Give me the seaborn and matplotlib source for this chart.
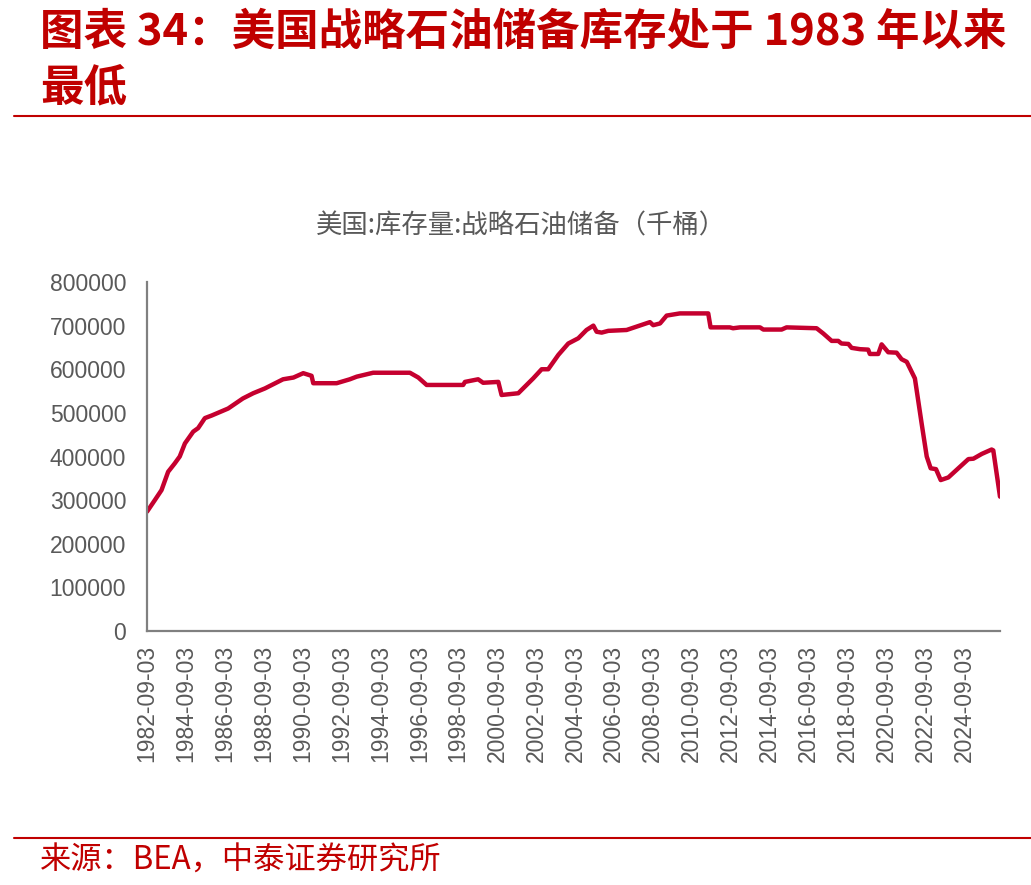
import pandas as pd
import numpy as np
import matplotlib
matplotlib.use('Agg')
import matplotlib.pyplot as plt
import matplotlib.dates as mdates
import seaborn as sns

# 美国战略石油储备（千桶），从图上读出的拐点
dates = ['1982-09-03', '1983-01-28', '1983-06-03', '1983-10-05', '1984-02-05',
         '1984-05-10', '1984-08-15', '1985-01-18', '1985-04-20', '1985-08-25',
         '1986-01-01', '1986-11-05', '1987-08-08', '1988-02-18', '1988-09-25',
         '1989-09-01', '1990-03-15', '1990-09-15', '1991-02-18', '1991-03-22',
         '1992-06-03', '1993-02-06', '1993-06-15', '1994-04-20', '1996-03-10',
         '1996-08-15', '1997-01-18', '1998-12-05', '1999-01-08', '1999-09-12',
         '1999-12-15', '2000-09-25', '2000-11-25', '2001-10-05', '2002-07-12',
         '2002-12-18', '2003-04-20', '2003-10-28', '2004-05-01', '2004-11-05',
         '2005-04-08', '2005-08-15', '2005-10-15', '2006-01-18', '2006-05-22',
         '2007-05-01', '2008-07-12', '2008-09-12', '2009-01-18', '2009-05-22',
         '2010-01-25', '2011-07-12', '2011-08-25', '2012-08-20', '2012-10-20',
         '2013-02-28', '2014-03-10', '2014-05-12', '2015-04-20', '2015-07-22',
         '2017-02-05', '2017-06-10', '2017-11-15', '2018-03-18', '2018-05-18',
         '2018-09-25', '2018-11-25', '2019-05-01', '2019-10-01', '2019-11-02',
         '2020-04-08', '2020-06-10', '2020-10-12', '2021-03-18', '2021-06-20',
         '2021-09-25', '2022-02-25', '2022-07-01', '2022-10-05', '2022-12-18',
         '2023-03-28', '2023-06-25', '2023-11-15', '2024-11-25', '2025-02-28',
         '2025-08-05', '2026-02-05', '2026-03-08', '2026-07-12']
stock = [273500, 300000, 323000, 365000, 384000,
         400000, 430000, 457000, 465000, 488000,
         494000, 510000, 533000, 545000, 556000,
         577000, 581000, 591000, 585000, 568000,
         568000, 577000, 583000, 592000, 592000,
         581000, 564000, 564000, 571000, 577000,
         569000, 571000, 541000, 545000, 579000,
         600000, 600000, 633000, 659000, 671000,
         690000, 700000, 686000, 684000, 688000,
         690000, 708000, 701000, 705000, 723000,
         728000, 728000, 696000, 696000, 694000,
         696000, 696000, 691000, 691000, 696000,
         694000, 682000, 665000, 665000, 659000,
         658000, 649000, 646000, 645000, 635000,
         635000, 657000, 639000, 638000, 623000,
         617000, 579000, 476000, 400000, 373000,
         371000, 346000, 352000, 394000, 395000,
         406000, 416000, 414000, 308000]

tick_labels = ['%d-09-03' % y for y in range(1982, 2025, 2)]
y_ticks = [0, 100000, 200000, 300000, 400000, 500000, 600000, 700000, 800000]

df = pd.DataFrame({'date': pd.to_datetime(dates), 'stock': stock})

sns.set_style('white')
plt.rcParams['font.family'] = ['Liberation Sans', 'Noto Sans CJK SC', 'DejaVu Sans']

red = '#C00000'
grey = '#595959'
axis_grey = '#808080'
cjk = ['Noto Sans CJK SC', 'DejaVu Sans']

fig = plt.figure(figsize=(10.31, 8.85), dpi=100)
ax = fig.add_axes([147 / 1031, 1 - 631 / 885, 853 / 1031, 349 / 885])

sns.lineplot(data=df, x='date', y='stock', ax=ax, color='#C5002F', linewidth=3.2)

ax.set_ylim(0, 800000)
ax.set_yticks(y_ticks)
ax.set_yticklabels([str(v) for v in y_ticks])
ax.set_xlim(pd.Timestamp('1982-09-03'), pd.Timestamp('2026-07-12'))
ax.set_xticks([pd.Timestamp(t) for t in tick_labels])
ax.set_xticklabels(tick_labels, rotation=90)
ax.set_xlabel('')
ax.set_ylabel('')

for s in ['top', 'right']:
    ax.spines[s].set_visible(False)
for s in ['left', 'bottom']:
    ax.spines[s].set_color(axis_grey)
    ax.spines[s].set_linewidth(1.6)
ax.tick_params(axis='both', colors=axis_grey, length=6, width=1.6,
               labelcolor=grey, labelsize=16.5)
ax.tick_params(axis='y', pad=9)
ax.tick_params(axis='x', pad=4)

# 图内标题
fig.text(521 / 1031, 1 - 226 / 885, '美国:库存量:战略石油储备（千桶）',
         ha='center', va='center', fontsize=19, color=grey, family=cjk)

# 报告标题
title_font = dict(fontsize=31.3, color=red, fontweight='bold', style='italic', family=cjk)
fig.text(40 / 1031, 1 - 32 / 885, '图表 34：美国战略石油储备库存处于 1983 年以来',
         ha='left', va='center', **title_font)
fig.text(40 / 1031, 1 - 87 / 885, '最低', ha='left', va='center', **title_font)

fig.add_artist(plt.Line2D([14 / 1031, 1], [1 - 116 / 885, 1 - 116 / 885],
                          color=red, linewidth=1.5))
fig.add_artist(plt.Line2D([14 / 1031, 1], [1 - 838 / 885, 1 - 838 / 885],
                          color=red, linewidth=1.5))

fig.text(40 / 1031, 1 - 861 / 885, '来源：BEA，中泰证券研究所', ha='left', va='center',
         fontsize=22.5, color=red, family=cjk)

plt.savefig('out.png', dpi=100)
